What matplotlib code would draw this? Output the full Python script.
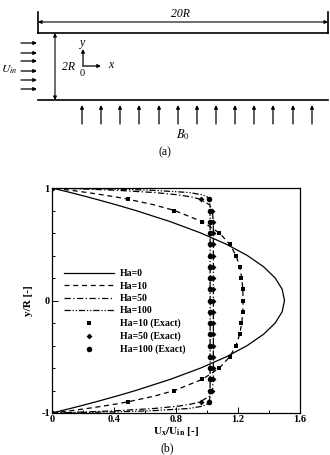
import matplotlib
matplotlib.use("Agg")
import matplotlib.pyplot as plt
from matplotlib.ticker import MultipleLocator

plt.rcParams["font.family"] = ["Liberation Serif", "DejaVu Serif"]
plt.rcParams["mathtext.fontset"] = "stix"

# ---- chart (b) data ----
y_curve = [-1.0, -0.99, -0.98, -0.96, -0.94, -0.92, -0.9, -0.85, -0.8, -0.7, -0.6,
           -0.5, -0.4, -0.3, -0.2, -0.1, 0.0, 0.1, 0.2, 0.3, 0.4, 0.5, 0.6, 0.7,
           0.8, 0.85, 0.9, 0.92, 0.94, 0.96, 0.98, 0.99, 1.0]
u_ha0 = [0.0, 0.03, 0.059, 0.118, 0.175, 0.23, 0.285, 0.416, 0.54, 0.765, 0.96,
         1.125, 1.26, 1.365, 1.44, 1.485, 1.5, 1.485, 1.44, 1.365, 1.26, 1.125, 0.96, 0.765,
         0.54, 0.416, 0.285, 0.23, 0.175, 0.118, 0.059, 0.03, 0.0]
u_ha10 = [0.0, 0.061, 0.12, 0.226, 0.323, 0.413, 0.492, 0.66, 0.79, 0.971, 1.08,
          1.147, 1.187, 1.211, 1.224, 1.231, 1.233, 1.231, 1.224, 1.211, 1.187, 1.147, 1.08, 0.971,
          0.79, 0.66, 0.492, 0.413, 0.323, 0.226, 0.12, 0.061, 0.0]
u_ha50 = [0.0, 0.23, 0.41, 0.658, 0.809, 0.901, 0.956, 1.017, 1.035, 1.04, 1.041,
          1.041, 1.041, 1.041, 1.041, 1.041, 1.041, 1.041, 1.041, 1.041, 1.041, 1.041, 1.041, 1.04,
          1.035, 1.017, 0.956, 0.901, 0.809, 0.658, 0.41, 0.23, 0.0]
u_ha100 = [0.0, 0.401, 0.645, 0.883, 0.97, 1.002, 1.014, 1.02, 1.02, 1.02, 1.02,
           1.02, 1.02, 1.02, 1.02, 1.02, 1.02, 1.02, 1.02, 1.02, 1.02, 1.02, 1.02, 1.02,
           1.02, 1.02, 1.014, 1.002, 0.97, 0.883, 0.645, 0.401, 0.0]

y_exact = [-1.0, -0.9, -0.8, -0.7, -0.6, -0.5, -0.4, -0.3, -0.2, -0.1, 0.0,
           0.1, 0.2, 0.3, 0.4, 0.5, 0.6, 0.7, 0.8, 0.9, 1.0]
ex_ha10 = [0.0, 0.49, 0.79, 0.97, 1.08, 1.15, 1.19, 1.21, 1.22, 1.23, 1.23,
           1.23, 1.22, 1.21, 1.19, 1.15, 1.08, 0.97, 0.79, 0.49, 0.0]
ex_ha50 = [0.0, 0.96, 1.035, 1.04, 1.04, 1.04, 1.04, 1.04, 1.04, 1.04, 1.04,
           1.04, 1.04, 1.04, 1.04, 1.04, 1.04, 1.04, 1.035, 0.96, 0.0]
ex_ha100 = [0.0, 1.01, 1.02, 1.02, 1.02, 1.02, 1.02, 1.02, 1.02, 1.02, 1.02,
            1.02, 1.02, 1.02, 1.02, 1.02, 1.02, 1.02, 1.02, 1.01, 0.0]

# ---- schematic (a) layout (pixel units of the top panel) ----
inlet_y = [43, 53, 61, 71, 80, 89]
field_x = [82, 101, 120, 139, 159, 178, 197, 216, 235, 254, 273, 293, 312]

W, H = 330, 455
fig = plt.figure(figsize=(W / 100, H / 100), dpi=100)

# ---------------- (a) ----------------
ax_a = fig.add_axes([0, 1 - 160 / H, 1, 160 / H])
ax_a.set_xlim(0, W)
ax_a.set_ylim(160, 0)
ax_a.axis("off")
lw = 1.2
k = "black"
ax_a.plot([38, 328], [33, 33], color=k, lw=lw)
ax_a.plot([38, 328], [100, 100], color=k, lw=lw)
ax_a.plot([38, 38], [12, 33], color=k, lw=lw)
ax_a.plot([328, 328], [12, 33], color=k, lw=lw)
arr = dict(arrowstyle="<|-|>", color=k, lw=0.8, mutation_scale=5, shrinkA=0, shrinkB=0)
ax_a.annotate("", xy=(38, 22), xytext=(328, 22), arrowprops=arr)
ax_a.annotate("", xy=(55, 33), xytext=(55, 100), arrowprops=arr)
ax_a.text(180, 14, "20R", ha="center", va="center", fontsize=8.5, style="italic")
ax_a.text(68, 67, "2R", ha="center", va="center", fontsize=8.5, style="italic")
one = dict(arrowstyle="-|>", color=k, lw=0.9, mutation_scale=5, shrinkA=0, shrinkB=0)
ax_a.annotate("", xy=(83, 49), xytext=(83, 66), arrowprops=one)
ax_a.annotate("", xy=(101, 66), xytext=(83, 66), arrowprops=one)
ax_a.text(83, 43, "y", ha="center", va="center", fontsize=8.5, style="italic")
ax_a.text(111, 65, "x", ha="center", va="center", fontsize=8.5, style="italic")
ax_a.text(82, 73, "0", ha="center", va="center", fontsize=7.5)
for yy in inlet_y:
    ax_a.annotate("", xy=(37, yy), xytext=(21, yy), arrowprops=one)
ax_a.text(1, 70, r"$U_{in}$", ha="left", va="center", fontsize=8.5)
for xx in field_x:
    ax_a.annotate("", xy=(xx, 105), xytext=(xx, 124), arrowprops=one)
ax_a.text(183, 135, r"$B_0$", ha="center", va="center", fontsize=9)
ax_a.text(165, 152, "(a)", ha="center", va="center", fontsize=8.5)

# ---------------- (b) ----------------
ax = fig.add_axes([52 / W, 1 - 413 / H, 248 / W, 225 / H])
ax.plot(u_ha0, y_curve, color=k, lw=0.9, ls="-", label="Ha=0")
ax.plot(u_ha10, y_curve, color=k, lw=0.9, ls=(0, (4, 3)), label="Ha=10")
ax.plot(u_ha50, y_curve, color=k, lw=0.9, ls=(0, (5, 2, 1, 2)), label="Ha=50")
ax.plot(u_ha100, y_curve, color=k, lw=0.9, ls=(0, (5, 1.5, 1, 1.5, 1, 1.5)), label="Ha=100")
ax.plot(ex_ha10, y_exact, ls="none", marker="s", ms=2.8, mew=0, color=k, label="Ha=10 (Exact)")
ax.plot(ex_ha50, y_exact, ls="none", marker="D", ms=3.0, mew=0, color=k, label="Ha=50 (Exact)")
ax.plot(ex_ha100, y_exact, ls="none", marker="o", ms=4.0, mew=0, color=k, label="Ha=100 (Exact)")

ax.set_xlim(0, 1.6)
ax.set_ylim(-1, 1)
ax.xaxis.set_minor_locator(MultipleLocator(0.2))
ax.yaxis.set_minor_locator(MultipleLocator(0.2))
ax.set_xticks([0, 0.4, 0.8, 1.2, 1.6])
ax.set_yticks([-1, 0, 1])
ax.set_xticklabels(["0", "0.4", "0.8", "1.2", "1.6"], fontweight="bold")
ax.set_yticklabels(["-1", "0", "1"], fontweight="bold")
ax.tick_params(which="both", direction="in", labelsize=7.5, pad=1.5, width=0.7)
ax.tick_params(which="major", length=4)
ax.tick_params(which="minor", length=2)
for s in ax.spines.values():
    s.set_linewidth(0.9)
ax.set_xlabel(r"$\mathbf{U_x/U_{in}}$ [-]", fontsize=8, fontweight="bold", labelpad=1)
ax.set_ylabel("y/R [-]", fontsize=8, fontweight="bold", labelpad=6)
ax.legend(loc="center left", bbox_to_anchor=(0.02, 0.45), frameon=False,
          prop={"size": 7, "weight": "bold"}, handlelength=5.2, handletextpad=0.6,
          labelspacing=0.35, borderaxespad=0.3)
fig.text(167 / W, 1 - 448 / H, "(b)", ha="center", va="center", fontsize=8.5)

fig.savefig("out.png", dpi=100)
